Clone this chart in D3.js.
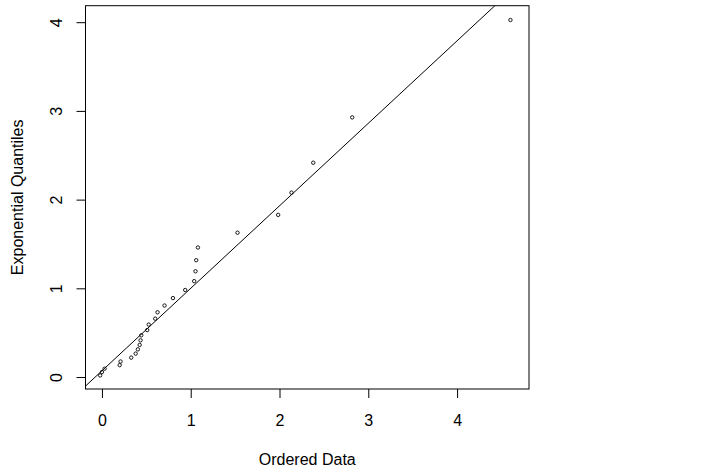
<!DOCTYPE html>
<html>
<head>
<meta charset="utf-8">
<script src="https://cdn.jsdelivr.net/npm/d3@7"></script>
<style>
  body { margin: 0; background: #fff; }
  svg { display: block; font-family: "Liberation Sans", Arial, sans-serif; }
</style>
</head>
<body>
<svg width="722" height="473"></svg>
<script>
// ordered sample (x) against exponential quantiles (y)
const orderedData = [
  -0.02, 0.0, 0.03, 0.2, 0.21, 0.33, 0.38, 0.405, 0.425, 0.435,
  0.443, 0.51, 0.527, 0.6, 0.626, 0.705, 0.8, 0.938, 1.039, 1.054,
  1.062, 1.081, 1.527, 1.985, 2.135, 2.38, 2.819, 4.601
];
const expQuantiles = [
  0.018, 0.055, 0.094, 0.134, 0.175, 0.219, 0.264, 0.312, 0.362, 0.414,
  0.47, 0.529, 0.591, 0.658, 0.73, 0.806, 0.89, 0.981, 1.081, 1.192,
  1.317, 1.46, 1.627, 1.828, 2.079, 2.416, 2.927, 4.025
];
const xTicks = [0, 1, 2, 3, 4];
const yTicks = [0, 1, 2, 3, 4];
const refLine = { intercept: 0.07, slope: 0.93 };

const svg = d3.select("svg");
const box = { left: 85.5, right: 529, top: 5.7, bottom: 389 };

const x = d3.scaleLinear().domain([-0.185, 4.81]).range([box.left, box.right]);
const y = d3.scaleLinear().domain([-0.135, 4.186]).range([box.bottom, box.top]);

// reference line, clipped to the plot box
svg.append("clipPath").attr("id", "plotclip")
  .append("rect")
  .attr("x", box.left).attr("y", box.top)
  .attr("width", box.right - box.left).attr("height", box.bottom - box.top);

const [x0, x1] = x.domain();
svg.append("line")
  .attr("clip-path", "url(#plotclip)")
  .attr("x1", x(x0)).attr("y1", y(refLine.intercept + refLine.slope * x0))
  .attr("x2", x(x1)).attr("y2", y(refLine.intercept + refLine.slope * x1))
  .attr("stroke", "#000").attr("stroke-width", 1);

svg.append("g")
  .selectAll("circle")
  .data(orderedData)
  .join("circle")
  .attr("cx", (d) => x(d))
  .attr("cy", (d, i) => y(expQuantiles[i]))
  .attr("r", 1.7)
  .attr("fill", "none")
  .attr("stroke", "#000")
  .attr("stroke-width", 0.9);

// axes
const xAxis = svg.append("g")
  .attr("transform", `translate(0,${box.bottom})`)
  .call(d3.axisBottom(x).tickValues(xTicks).tickSize(9).tickPadding(16).tickFormat(d3.format("d")));
const yAxis = svg.append("g")
  .attr("transform", `translate(${box.left},0)`)
  .call(d3.axisLeft(y).tickValues(yTicks).tickSize(9).tickPadding(0).tickFormat(d3.format("d")));

[xAxis, yAxis].forEach((g) => {
  g.select(".domain").remove();
  g.selectAll("line").attr("stroke", "#000");
  g.selectAll("text").attr("font-size", 16).attr("fill", "#000").attr("font-family", null);
});
xAxis.selectAll("text").attr("dy", null).attr("y", 36.5);
yAxis.selectAll("text")
  .attr("x", null).attr("dy", null)
  .attr("text-anchor", "middle")
  .attr("transform", "translate(-23.5,0) rotate(-90)");

svg.append("rect")
  .attr("x", box.left).attr("y", box.top)
  .attr("width", box.right - box.left).attr("height", box.bottom - box.top)
  .attr("fill", "none").attr("stroke", "#000").attr("stroke-width", 1);

svg.append("text")
  .attr("x", (box.left + box.right) / 2).attr("y", 465)
  .attr("text-anchor", "middle").attr("font-size", 16)
  .text("Ordered Data");

svg.append("text")
  .attr("transform", `translate(23.3,${(box.top + box.bottom) / 2}) rotate(-90)`)
  .attr("text-anchor", "middle").attr("font-size", 16)
  .text("Exponential Quantiles");
</script>
</body>
</html>
